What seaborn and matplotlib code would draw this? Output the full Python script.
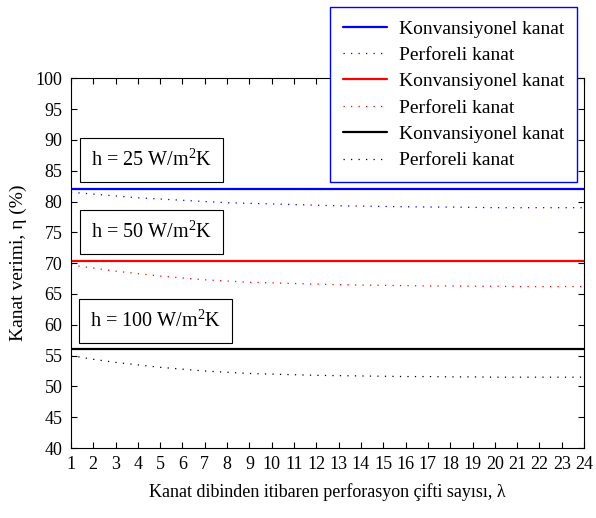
import matplotlib
matplotlib.use("Agg")
import matplotlib.pyplot as plt
import pandas as pd
import seaborn as sns

# number of perforation pairs from the fin base
lam = list(range(1, 25))

# conventional fin efficiency (%), constant along lambda
conv_25 = 82.0
conv_50 = 70.3
conv_100 = 56.0

# perforated fin efficiency (%)
perf_25 = [81.5, 81.2, 80.9, 80.6, 80.4, 80.2, 80.0, 79.8, 79.7, 79.6, 79.5, 79.4,
           79.3, 79.25, 79.2, 79.15, 79.1, 79.1, 79.05, 79.0, 79.0, 79.0, 79.0, 79.0]
perf_50 = [69.7, 69.2, 68.7, 68.3, 67.9, 67.6, 67.3, 67.1, 66.9, 66.8, 66.7, 66.6,
           66.5, 66.45, 66.4, 66.35, 66.3, 66.3, 66.25, 66.25, 66.2, 66.2, 66.2, 66.2]
perf_100 = [55.0, 54.4, 53.9, 53.5, 53.1, 52.8, 52.5, 52.3, 52.1, 52.0, 51.9, 51.8,
            51.75, 51.7, 51.65, 51.6, 51.6, 51.55, 51.55, 51.5, 51.5, 51.5, 51.5, 51.5]

h_labels = ["h = 25 W/m$^2$K", "h = 50 W/m$^2$K", "h = 100 W/m$^2$K"]
h_label_pos = [(4.6, 86.7), (4.6, 75.0), (4.8, 60.6)]

sns.set_theme(style="ticks")
plt.rcParams["font.family"] = ["Liberation Serif", "DejaVu Serif"]
plt.rcParams["mathtext.fontset"] = "custom"
plt.rcParams["mathtext.rm"] = "Liberation Serif"
plt.rcParams["xtick.direction"] = "in"
plt.rcParams["ytick.direction"] = "in"
for key in ["text.color", "axes.labelcolor", "xtick.color", "ytick.color",
            "axes.edgecolor"]:
    plt.rcParams[key] = "black"

fig = plt.figure(figsize=(5.96, 5.18), dpi=100)
ax = fig.add_axes([0.119, 0.135, 0.861, 0.714])

series = [
    (conv_25, perf_25, "blue"),
    (conv_50, perf_50, "red"),
    (conv_100, perf_100, "black"),
]
for conv, perf, col in series:
    sns.lineplot(x=lam, y=[conv] * len(lam), ax=ax, color=col, linewidth=1.6,
                 label="Konvansiyonel kanat")
    sns.lineplot(x=lam, y=perf, ax=ax, color=col, linewidth=0.9,
                 linestyle=(0, (1, 5)), label="Perforeli kanat")

for txt, (x, y) in zip(h_labels, h_label_pos):
    ax.text(x, y, txt, ha="center", va="center", fontsize=14.5,
            bbox=dict(boxstyle="square,pad=0.55", facecolor="white",
                      edgecolor="black", linewidth=0.8))

ax.set_xlim(1, 24)
ax.set_ylim(40, 100)
ax.set_xticks(lam)
ax.set_yticks(range(40, 101, 5))
ax.tick_params(axis="both", labelsize=13, length=4, width=0.8,
               top=True, right=True, pad=6)
for sp in ax.spines.values():
    sp.set_linewidth(0.8)
    sp.set_color("black")

ax.set_xlabel("Kanat dibinden itibaren perforasyon çifti sayısı, λ",
              fontsize=13, labelpad=7)
ax.set_ylabel("Kanat verimi, η (%)", fontsize=14, labelpad=6)

leg = ax.legend(loc="upper right", bbox_to_anchor=(0.968, 0.986),
                bbox_transform=fig.transFigure, fontsize=14, frameon=True,
                fancybox=False, handlelength=2.3, handletextpad=0.6,
                borderaxespad=0, labelspacing=0.45, borderpad=0.65)
leg.get_frame().set_edgecolor("blue")
leg.get_frame().set_linewidth(1.0)
leg.get_frame().set_alpha(1.0)

fig.savefig("out.png", dpi=100, facecolor="white")
